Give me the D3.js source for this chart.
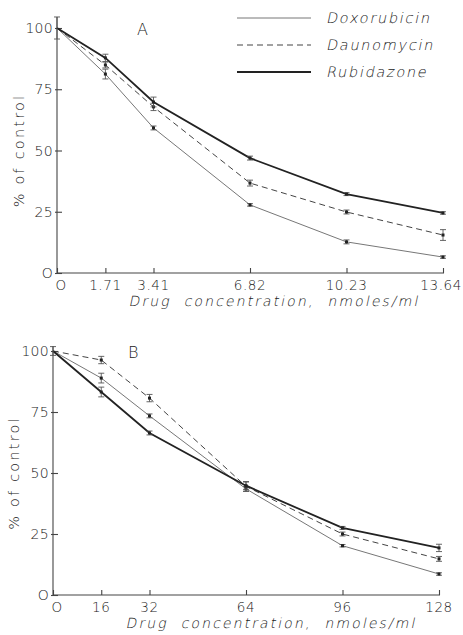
<!DOCTYPE html>
<html><head><meta charset="utf-8">
<script src="https://cdn.jsdelivr.net/npm/d3@7"></script>
<style>
body{margin:0;background:#fff;}
svg{display:block;}
text{font-family:"DejaVu Sans ExtraLight","DejaVu Sans",sans-serif;font-weight:200;fill:#222;}
</style></head>
<body>
<svg id="c" width="463" height="635"></svg>
<script>
// ---- data ----
const seriesNames = ["Doxorubicin", "Daunomycin", "Rubidazone"];
const yTicks = [0, 25, 50, 75, 100];
const yTickLabels = ["O", "25", "50", "75", "100"];

const xA = [0, 1.71, 3.41, 6.82, 10.23, 13.64];
const xALabels = ["O", "1.71", "3.41", "6.82", "10.23", "13.64"];
const doxoA = [100, 81.2, 59.2, 27.8, 12.7, 6.5];
const daunoA = [100, 84.9, 67.8, 36.7, 24.9, 15.5];
const rubiA = [100, 87.8, 69.8, 46.9, 32.2, 24.5];
const doxoAErr = [0, 2, 0.8, 0.5, 0.8, 0.5];
const daunoAErr = [0, 1.2, 1.5, 1.2, 0.8, 2.2];
const rubiAErr = [4.5, 1.5, 2, 0.8, 0.6, 0.5];

const xB = [0, 16, 32, 64, 96, 128];
const xBLabels = ["O", "16", "32", "64", "96", "128"];
const doxoB = [100, 88.9, 73.4, 43.5, 20.2, 8.6];
const daunoB = [100, 96.3, 80.7, 44.5, 25.0, 14.8];
const rubiB = [100, 83.2, 66.4, 44.8, 27.5, 19.3];
const doxoBErr = [0, 2, 0.8, 1, 0.5, 0.5];
const daunoBErr = [0, 1.5, 1.5, 2, 0.8, 1];
const rubiBErr = [1.8, 2, 0.8, 1.5, 0.6, 1.5];

const xTitle = "Drug  concentration,  nmoles/ml";
const yTitle = "% of control";

// ---- styles ----
const styles = [
  {color:"#777", width:1.0, dash:null},
  {color:"#444", width:1.0, dash:"6,4"},
  {color:"#222", width:1.8, dash:null}
];

const svg = d3.select("#c");

function slanted(parent, x, y, txt, size, spacing, anchor){
  return parent.append("text")
    .attr("transform", `translate(${x},${y}) skewX(-12)`)
    .attr("text-anchor", anchor).attr("font-size", size)
    .attr("letter-spacing", spacing).attr("xml:space","preserve").text(txt);
}

function panel(opt){
  const g = svg.append("g");
  const x = d3.scaleLinear().domain([0, opt.xMax]).range([opt.x0, opt.x1]);
  const y = d3.scaleLinear().domain([0, 100]).range([opt.y0, opt.y1]);

  // axes
  const ax = g.append("g").attr("transform", `translate(0,${opt.y0})`)
    .call(d3.axisTop(x).tickValues(opt.xs).tickSize(5).tickFormat(""));
  ax.select(".domain").attr("d", `M${opt.x0},0H${opt.x1+1}`);
  ax.selectAll("line,path").attr("stroke","#444").attr("stroke-width",1.1);
  // x tick labels
  const n = opt.xs.length;
  g.selectAll(".xl").data(opt.xs).enter().append("text")
    .attr("x", (d,i)=> (i===n-1 && opt.lastEnd) ? 462 : x(d) + (i===0?4:0)).attr("y", opt.y0 + 17)
    .attr("text-anchor",(d,i)=> (i===n-1 && opt.lastEnd) ? "end" : "middle")
    .attr("font-size",13.5).attr("letter-spacing",0.6)
    .text((d,i)=>opt.xLabels[i]);

  const ay = g.append("g").attr("transform", `translate(${opt.x0},0)`)
    .call(d3.axisRight(y).tickValues(yTicks).tickSize(5).tickFormat(""));
  ay.select(".domain").attr("d", `M0,${opt.y0}V${opt.yTop}`);
  ay.selectAll("line,path").attr("stroke","#444").attr("stroke-width",1.1);
  ay.selectAll(".tick line").attr("x1",-2);
  g.selectAll(".yl").data(yTicks).enter().append("text")
    .attr("x", opt.x0 - 4).attr("y", d=>y(d)+5)
    .attr("text-anchor","end").attr("font-size",14).attr("letter-spacing",0.3)
    .text((d,i)=>yTickLabels[i]);

  // titles
  slanted(g, opt.titleX, opt.y0 + 33, xTitle, 14, 2.1, "middle");
  g.append("text").attr("transform", `translate(${opt.yTitleX},${y(50)}) rotate(-90)`)
    .attr("text-anchor","middle").attr("font-size",14.5).attr("letter-spacing",2.2)
    .text(yTitle);
  g.append("text").attr("x", opt.labX).attr("y", opt.labY)
    .attr("font-size",16).text(opt.label);

  // series
  opt.series.forEach((s,k)=>{
    const st = styles[k];
    const pts = opt.xs.map((xv,i)=>({x:xv, y:s.v[i], e:s.e[i]}));
    const line = d3.line().x(d=>x(d.x)).y(d=>y(d.y));
    g.append("path").attr("d", line(pts)).attr("fill","none")
      .attr("stroke", st.color).attr("stroke-width", st.width)
      .attr("stroke-dasharray", st.dash);
    // error bars
    pts.filter(d=>d.e>0).forEach(d=>{
      const cx = x(d.x), t = y(d.y+d.e), b = y(d.y-d.e);
      g.append("path").attr("d", `M${cx},${t}V${b}M${cx-3},${t}H${cx+3}M${cx-3},${b}H${cx+3}`)
        .attr("stroke","#555").attr("stroke-width",0.9).attr("fill","none");
    });
    g.selectAll(null).data(pts.slice(1)).enter().append("rect")
      .attr("x", d=>x(d.x)-1.5).attr("y", d=>y(d.y)-1.5)
      .attr("width",3).attr("height",3).attr("fill","#222");
  });
}

panel({x0:57, x1:443, y0:273, y1:28, yTop:17, xMax:13.64, xs:xA, xLabels:xALabels,
  yTitleX:24, label:"A", labX:137, labY:35, titleX:274, lastEnd:true,
  series:[{v:doxoA,e:doxoAErr},{v:daunoA,e:daunoAErr},{v:rubiA,e:rubiAErr}]});

panel({x0:53, x1:439, y0:595, y1:351, yTop:346, xMax:128, xs:xB, xLabels:xBLabels,
  yTitleX:19, label:"B", labX:128, labY:358, titleX:271, lastEnd:false,
  series:[{v:doxoB,e:doxoBErr},{v:daunoB,e:daunoBErr},{v:rubiB,e:rubiBErr}]});

// legend
const leg = svg.append("g");
const legY = [18, 45, 72];
seriesNames.forEach((n,k)=>{
  const st = styles[k];
  leg.append("line").attr("x1",237).attr("x2",311).attr("y1",legY[k]).attr("y2",legY[k])
    .attr("stroke",st.color).attr("stroke-width",st.width).attr("stroke-dasharray",st.dash);
  slanted(leg, 326, legY[k]+5, n, 14.5, 1.7, "start");
});
</script>
</body></html>
